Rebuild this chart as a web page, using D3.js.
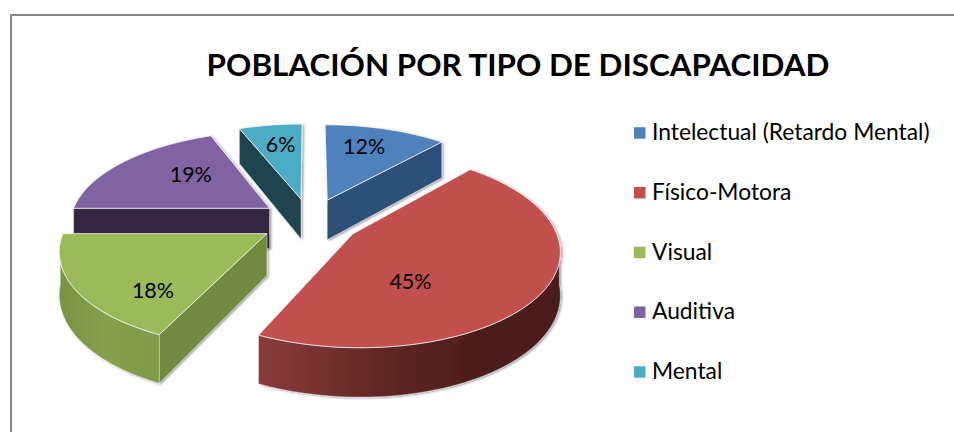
<!DOCTYPE html>
<html><head><meta charset="utf-8">
<script src="https://cdn.jsdelivr.net/npm/d3@7"></script>
<style>html,body{margin:0;padding:0;background:#fff;overflow:hidden}svg{display:block}text{font-family:Lato,"Open Sans",sans-serif;fill:#000}</style>
</head><body><div id="chart"></div>
<script>
const categories = ["Intelectual (Retardo Mental)", "Físico-Motora", "Visual", "Auditiva", "Mental"];
const values = [11.6, 45.4, 18, 19, 6];
const topColors = ["#4f81bd", "#c0504d", "#9bbb59", "#8064a2", "#4bacc6"];
const sideColors = ["#2f4f77", "#4c1d1d", "#71893f", "#352742", "#1d4550"];
const labelNudge = [[0,-9],[-52,13],[-3,24],[12,-6],[-1,-8]];

const W = 954, H = 432;
const view = {cx: 310, cy: 221, R: 200, tilt: 0.462, D: 1337, explode: 50, Z: 41};
const svg = d3.select("#chart").append("svg").attr("width", W).attr("height", H);
const defs = svg.append("defs");
const f = defs.append("filter").attr("id","sh").attr("x","-10%").attr("y","-10%").attr("width","120%").attr("height","120%");
f.append("feDropShadow").attr("dx",1.5).attr("dy",1).attr("stdDeviation",1).attr("flood-color","#000").attr("flood-opacity",.4);
const g0 = defs.append("linearGradient").attr("id","wall1");
[[0,"#8a3c3a"],[.45,"#5e2523"],[.75,"#4c1d1d"],[1,"#4c1d1d"]].forEach(s=>g0.append("stop").attr("offset",s[0]).attr("stop-color",s[1]));
const g1 = defs.append("linearGradient").attr("id","wall2");
[[0,"#7a9243"],[.45,"#86a04c"],[1,"#7f9947"]].forEach(s=>g1.append("stop").attr("offset",s[0]).attr("stop-color",s[1]));

// frame
svg.append("path").attr("d",`M11,${H}V15H${W}`).attr("fill","none").attr("stroke","#868686").attr("stroke-width",2);
// title
svg.append("text").attr("x",518).attr("y",75.5).attr("text-anchor","middle").attr("font-size",31.4).attr("font-weight",700).text("POBLACIÓN POR TIPO DE DISCAPACIDAD");

const colorTop = d3.scaleOrdinal(categories, topColors);
const colorSide = d3.scaleOrdinal(categories, sideColors);
const arcs = d3.pie().sort(null).value(d=>d)(values).map((a,i)=>({...a, name:categories[i], i}));

function project(a, r, z, slice){
  const mid = (slice.startAngle+slice.endAngle)/2;
  const x = r*Math.sin(a) + view.explode*Math.sin(mid);
  const w = r*Math.cos(a) + view.explode*Math.cos(mid);
  const k = view.D/(view.D+w);
  return [view.cx + x*k, view.cy - w*view.tilt*k + z*k];
}
const line = d3.line();
const step = Math.PI/180;
const arcAngles = (a,b)=>{const n=Math.max(2,Math.ceil((b-a)/step)); return d3.range(n+1).map(i=>a+(b-a)*i/n);};

const order = arcs.slice().sort((p,q)=>Math.cos((q.startAngle+q.endAngle)/2)-Math.cos((p.startAngle+p.endAngle)/2));
const groups = svg.selectAll("g.slice").data(order).join("g").attr("class","slice").attr("filter","url(#sh)");
groups.each(function(s){
  const g = d3.select(this);
  // radial walls
  [[s.startAngle,-1],[s.endAngle,1]].forEach(([ang,sign])=>{
    const normal = ang + sign*Math.PI/2;
    if (Math.cos(normal) < -0.01) {
      const p = [project(0,0,0,s),project(ang,view.R,0,s),project(ang,view.R,view.Z,s),project(0,0,view.Z,s)];
      g.append("path").attr("d",line(p)+"Z").attr("fill",colorSide(s.name)).attr("stroke","#fff").attr("stroke-opacity",.5).attr("stroke-width",.7);
    }
  });
  // outer wall
  const a0 = Math.max(s.startAngle, 95*step), a1 = Math.min(s.endAngle, 265*step);
  if (a1 > a0) {
    const as = arcAngles(a0,a1);
    const p = as.map(a=>project(a,view.R,0,s)).concat(as.slice().reverse().map(a=>project(a,view.R,view.Z,s)));
    g.append("path").attr("d",line(p)+"Z").attr("fill",`url(#wall${s.i})`).attr("stroke","#fff").attr("stroke-opacity",.5).attr("stroke-width",.7);
  }
  // top face
  const top = [project(0,0,0,s)].concat(arcAngles(s.startAngle,s.endAngle).map(a=>project(a,view.R,0,s)));
  g.append("path").attr("d",line(top)+"Z").attr("fill",colorTop(s.name)).attr("stroke","#fff").attr("stroke-width",.9).attr("stroke-opacity",.85).attr("stroke-linejoin","round");
});
// data labels
svg.selectAll("text.lab").data(arcs).join("text").attr("class","lab")
  .attr("font-size",21.5).attr("text-anchor","middle").attr("dominant-baseline","central")
  .attr("x",d=>project((d.startAngle+d.endAngle)/2,view.R*.6,0,d)[0]+labelNudge[d.i][0])
  .attr("y",d=>project((d.startAngle+d.endAngle)/2,view.R*.6,0,d)[1]+labelNudge[d.i][1])
  .text(d=>Math.round(d.value/d3.sum(values)*100)+"%");
// legend
const legendY = d3.scalePoint().domain(categories).range([132.7,371.7]);
const leg = svg.selectAll("g.leg").data(categories).join("g").attr("class","leg").attr("transform",d=>`translate(634,${legendY(d)})`);
leg.append("rect").attr("x",0).attr("y",-5.5).attr("width",11.5).attr("height",11.5).attr("fill",d=>colorTop(d));
leg.append("text").attr("x",18).attr("y",7.5).attr("font-size",22.8).text(d=>d);
</script></body></html>
